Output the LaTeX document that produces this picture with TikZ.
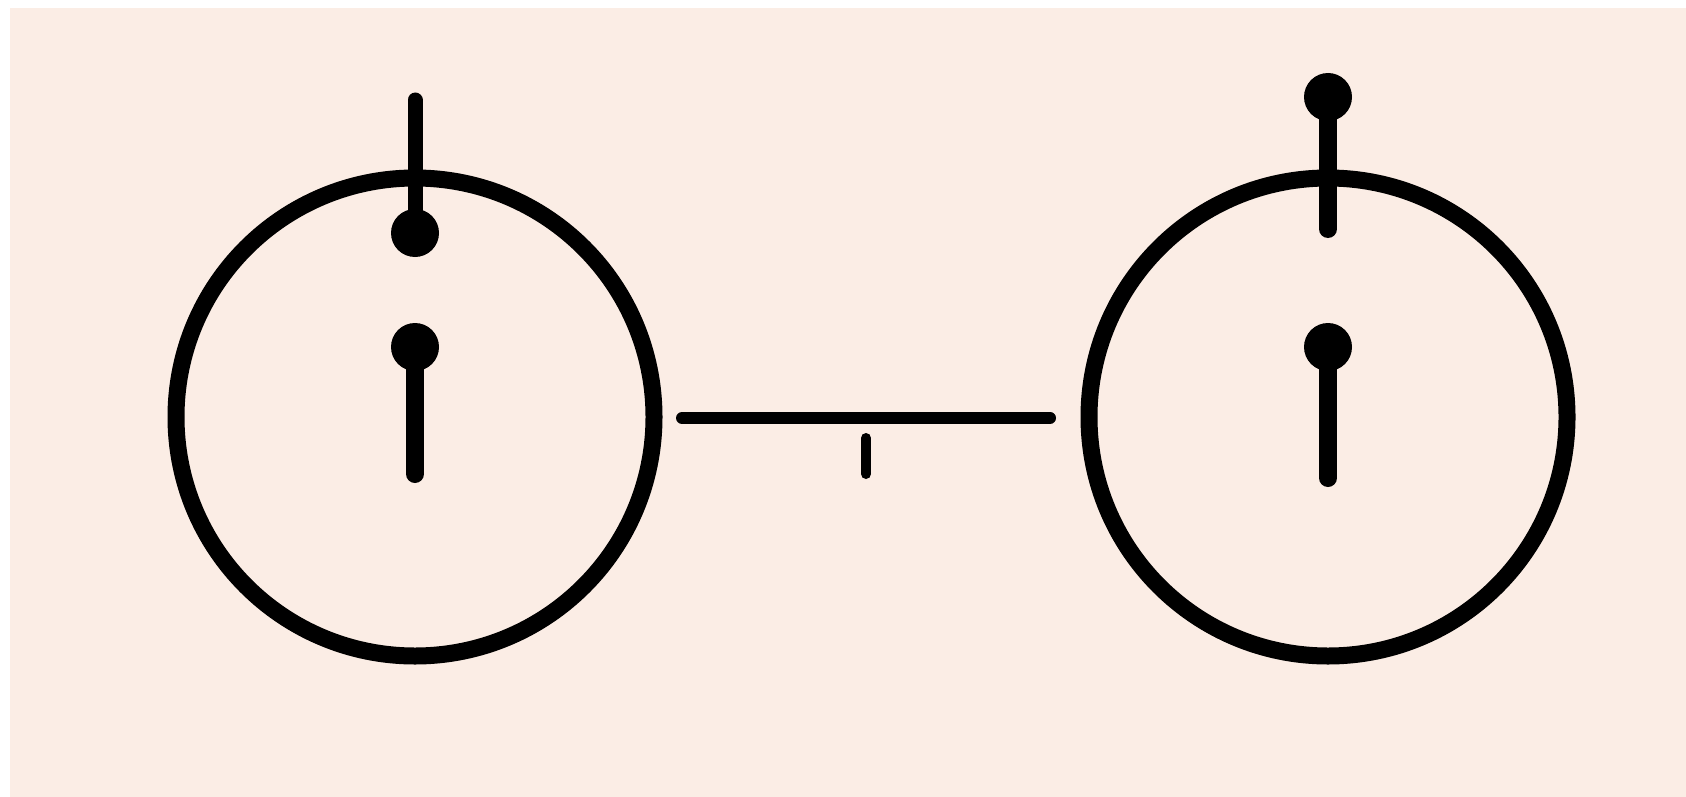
\documentclass[tikz,border=0pt]{standalone}
\definecolor{bgc}{RGB}{251,237,229}
\tikzset{
  ring/.style={circle, draw=black, line width=17pt, minimum size=478pt, inner sep=0pt},
  dot/.style={circle, fill=black, minimum size=48pt, inner sep=0pt},
  stem/.style={line width=15pt, line cap=round},
  thickstem/.style={line width=18pt, line cap=round},
  bond/.style={line width=12pt, line cap=round},
  tick/.style={line width=10pt, line cap=round}
}
\begin{document}
\begin{tikzpicture}[x=1pt,y=-1pt]
\useasboundingbox (0,0) rectangle (1686,797);
\fill[white] (0,0) rectangle (1686,797);
\fill[bgc] (10,8) rectangle (1686,797);
% left atom
\node[ring] (L) at (415,417) {};
\node[dot] (Ltop) at (415,233) {};
\node[dot] (Lmid) at (415,347) {};
\coordinate (LtopEnd) at (415,100);
\coordinate (LmidEnd) at (415,474);
\draw[stem] (LtopEnd) -- (Ltop.center);
\draw[thickstem] (Lmid.center) -- (LmidEnd);
% right atom
\node[ring] (R) at (1328,417) {};
\node[dot] (Rtop) at (1328,97) {};
\node[dot] (Rmid) at (1328,347) {};
\coordinate (RtopEnd) at (1328,229);
\coordinate (RmidEnd) at (1328,478);
\draw[thickstem] (Rtop.center) -- (RtopEnd);
\draw[thickstem] (Rmid.center) -- (RmidEnd);
% bond
\coordinate (B1) at (682,418);
\coordinate (B2) at (1050,418);
\draw[bond] (B1) -- (B2);
\coordinate (T1) at (866,438);
\coordinate (T2) at (866,474);
\draw[tick] (T1) -- (T2);
\end{tikzpicture}
\end{document}
